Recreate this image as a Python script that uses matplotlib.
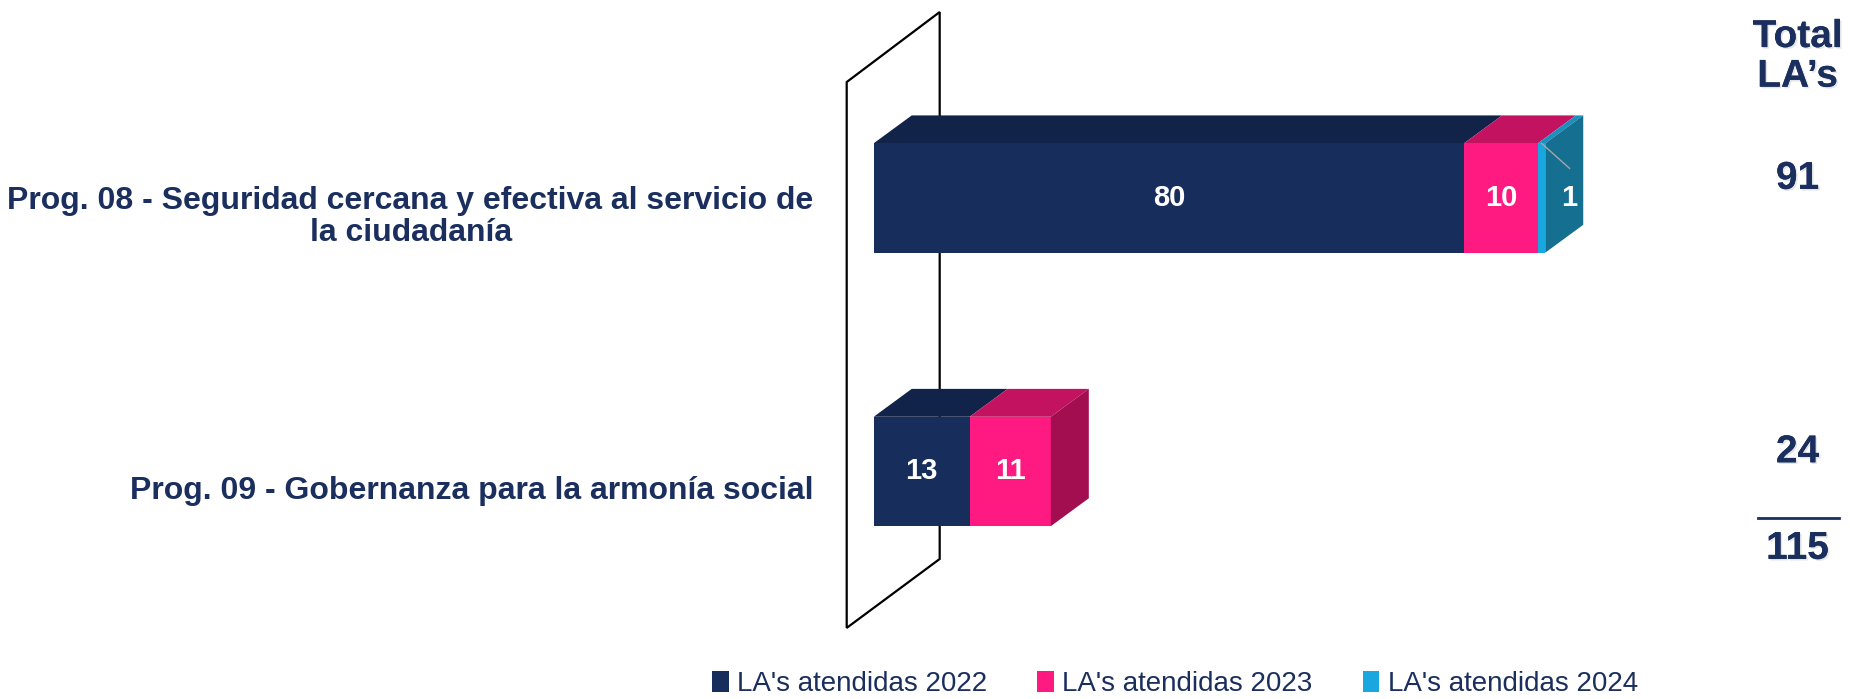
import matplotlib
matplotlib.use('Agg')
import matplotlib.pyplot as plt
from matplotlib.patches import Polygon, Patch
import matplotlib.patheffects as pe

programas = ['Prog. 08 - Seguridad cercana y efectiva al servicio de\nla ciudadanía',
             'Prog. 09 - Gobernanza para la armonía social']
series = ["LA's atendidas 2022", "LA's atendidas 2023", "LA's atendidas 2024"]
la_2022 = [80, 13]
la_2023 = [10, 11]
la_2024 = [1, 0]

front = ['#172d5b', '#fe1a80', '#1aa7df']
top = ['#12234a', '#c21260', '#1b8fbd']
side = ['#0f1d3e', '#a30e50', '#156f91']
navy = '#1b2f5e'
arial = 'Liberation Sans'

fig = plt.figure(figsize=(18.5, 6.99), dpi=100)
ax = fig.add_axes([0, 0, 1, 1])
ax.set_xlim(-118.4, 132.3)
ax.set_ylim(1.832, -0.724)
ax.axis('off')

bar_h = 0.40
dx, dy = 5.15, -0.102

# pared lateral del grafico 3D
wall = Polygon([(-3.66, -0.424), (8.94, -0.680), (8.94, 1.320), (-3.66, 1.572)],
               closed=True, facecolor='none', edgecolor='black', lw=1.6, zorder=1)
ax.add_patch(wall)

datos = [la_2022, la_2023, la_2024]
for i in range(len(programas)):
    vals = [d[i] for d in datos]
    y_top = i - bar_h / 2
    y_bot = i + bar_h / 2
    left = 0
    last = max(k for k, v in enumerate(vals) if v > 0)
    for k, v in enumerate(vals):
        if v == 0:
            continue
        r = left + v
        ax.add_patch(Polygon([(left, y_top), (r, y_top), (r + dx, y_top + dy), (left + dx, y_top + dy)],
                             closed=True, facecolor=top[k], edgecolor='none', zorder=2))
        ax.add_patch(Polygon([(left, y_top), (r, y_top), (r, y_bot), (left, y_bot)],
                             closed=True, facecolor=front[k], edgecolor='none', zorder=3))
        if v >= 3:
            ax.text(left + v / 2, i, str(v), ha='center', va='center', color='white',
                    fontsize=21, fontweight='bold', family=arial, zorder=5)
        else:
            lx = r + dx * 0.64
            ax.plot([left + v / 2, lx], [y_top, y_top - dy * 0.9], color='#a6a6a6', lw=1, zorder=5)
            ax.text(lx, i, str(v), ha='center', va='center', color='white',
                    fontsize=21, fontweight='bold', family=arial, zorder=5)
        if k == last:
            ax.add_patch(Polygon([(r, y_top), (r + dx, y_top + dy), (r + dx, y_bot + dy), (r, y_bot)],
                                 closed=True, facecolor=side[k], edgecolor='none', zorder=3))
        left = r

    ax.text(-8.13, i + 0.07, programas[i], ha='right', va='center', multialignment='center',
            fontsize=23, fontweight='bold', color=navy, family=arial, linespacing=1.1)

# columna de totales
sombra = [pe.withSimplePatchShadow(offset=(1.2, -1.2), shadow_rgbFace='gray', alpha=0.2), pe.Normal()]
tx = 125.2
ax.text(tx, -0.516, 'Total\nLA’s', ha='center', va='center', fontsize=28, fontweight='bold',
        color=navy, family=arial, linespacing=1.13, path_effects=sombra)
totales = [a + b + c for a, b, c in zip(la_2022, la_2023, la_2024)]
for i, t in enumerate(totales):
    ax.text(tx, i - 0.07, str(t), ha='center', va='center', fontsize=28, fontweight='bold',
            color=navy, family=arial, path_effects=sombra)
ax.plot([119.8, 130.8], [1.17, 1.17], color=navy, lw=2)
ax.text(tx, 1.283, str(sum(totales)), ha='center', va='center', fontsize=28, fontweight='bold',
        color=navy, family=arial, path_effects=sombra)

handles = [Patch(facecolor=c, edgecolor='none') for c in front]
fig.legend(handles, series, loc='center', bbox_to_anchor=(1175 / 1850, 1 - 684 / 699), ncol=3,
           frameon=False, handlelength=0.6, handleheight=0.8, handletextpad=0.3, columnspacing=1.8,
           prop={'family': arial, 'size': 20}, labelcolor=navy)

fig.savefig('out.png', dpi=100)
